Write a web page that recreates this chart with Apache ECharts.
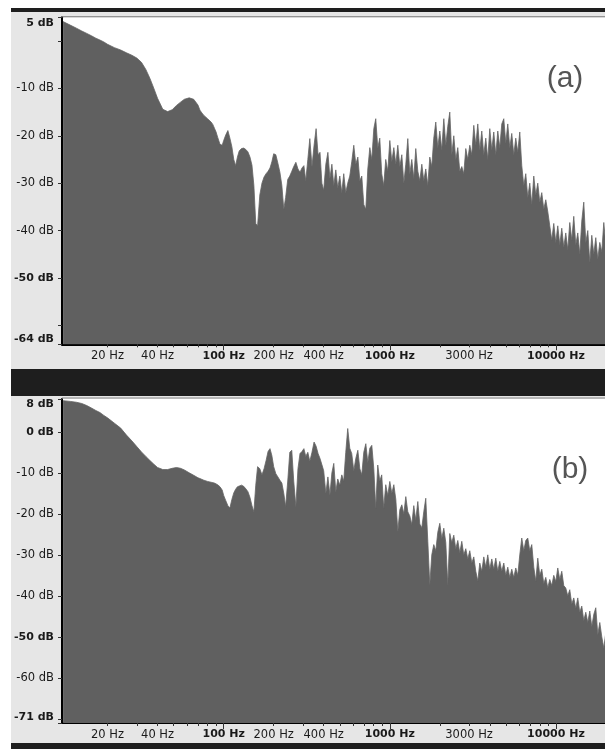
<!DOCTYPE html>
<html><head><meta charset="utf-8">
<script src="https://cdn.jsdelivr.net/npm/echarts@6/dist/echarts.min.js"></script>
<style>html,body{margin:0;padding:0;background:#fff;}#chart{width:605px;height:749px;}</style>
</head><body><div id="chart"></div>
<script>
// Frequency grid (Hz)
const freqs = [
  10.8, 12, 13, 14, 15, 16, 17, 18, 19, 20,
  22, 24, 26, 28, 30, 32, 34, 36, 38, 40,
  43, 46, 49, 52, 55, 58, 62, 66, 70,
  72, 74, 76, 78, 80, 82, 84, 86, 88, 90, 92, 95, 98,
  100, 103, 106, 109, 112, 115, 118, 121, 124, 128,
  132, 136, 140, 144, 148, 152, 156, 160, 165, 170,
  175, 180, 185, 190, 195, 200, 206, 212, 218, 224,
  230, 236, 243, 250, 257, 264, 272, 280, 288, 296,
  304, 312, 321, 330, 340, 350, 360, 370, 380, 390,
  400, 412, 424, 436, 448, 460, 473, 486, 500, 514,
  528, 543, 558, 574, 590, 607, 624, 642, 660, 678,
  697, 717, 737, 758, 779, 801, 823, 846, 870, 894,
  919, 945, 972, 1000, 1028, 1057, 1087, 1117, 1149, 1181,
  1214, 1248, 1283, 1319, 1356, 1394, 1433, 1474, 1515, 1558,
  1601, 1646, 1693, 1740, 1789, 1839, 1891, 1944, 1999, 2055,
  2113, 2172, 2233, 2296, 2360, 2427, 2495, 2565, 2637, 2711,
  2787, 2866, 2946, 3029, 3114, 3202, 3292, 3384, 3479, 3577,
  3678, 3781, 3887, 3996, 4109, 4224, 4343, 4465, 4590, 4719,
  4852, 4988, 5128, 5272, 5420, 5573, 5729, 5890, 6056, 6226,
  6401, 6581, 6766, 6956, 7152, 7353, 7559, 7772, 7990, 8215,
  8446, 8683, 8927, 9178, 9436, 9701, 9974, 10254, 10542, 10839,
  11143, 11457, 11779, 12110, 12450, 12800, 13160, 13530, 13910, 14301,
  14703, 15117, 15542, 15979, 16428, 16890, 17364, 17852, 18354, 18870,
  19400, 19950
];
// Panel (a) levels (dB)
const levelsA = [
  4.1, 3.3, 2.7, 2.1, 1.6, 1.1, 0.6, 0.2, -0.2, -0.7,
  -1.4, -1.9, -2.5, -3.0, -3.6, -4.5, -6.0, -7.9, -10.0, -12.1,
  -14.4, -14.9, -14.5, -13.6, -12.9, -12.3, -12.0, -12.3, -13.5,
  -14.6, -15.2, -15.7, -16.0, -16.4, -16.7, -17.1, -17.6, -18.4, -19.2, -20.3, -21.8, -22.0,
  -21.0, -19.8, -18.9, -20.5, -22.3, -25.0, -26.3, -24.5, -23.2, -22.7,
  -22.6, -22.9, -23.4, -24.5, -26.2, -30.5, -38.5, -39.0, -32.5, -30.0,
  -28.7, -28.0, -27.5, -26.8, -25.5, -23.8, -24.0, -25.8, -27.7, -30.5,
  -35.5, -33.0, -29.2, -28.5, -27.5, -26.5, -25.6, -27.0, -27.7, -26.8,
  -26.3, -29.5, -25.0, -20.6, -26.5, -22.0, -18.5, -24.0, -23.5, -30.0,
  -31.5, -26.0, -23.5, -29.0, -26.0, -30.5, -27.2, -31.0, -28.5, -32.0,
  -28.0, -32.0, -30.0, -28.5, -25.5, -22.0, -26.0, -24.5, -29.5, -28.5,
  -34.5, -35.5, -27.0, -22.5, -25.0, -18.5, -16.4, -22.5, -20.5, -28.0,
  -30.5, -25.0, -27.5, -21.0, -25.5, -22.5, -26.0, -22.0, -26.5, -24.0,
  -30.0, -26.0, -20.6, -28.0, -25.0, -29.0, -22.7, -27.5, -29.5, -26.0,
  -29.5, -27.0, -30.5, -24.5, -26.5, -20.5, -17.1, -22.5, -19.0, -23.0,
  -16.4, -22.0, -18.0, -15.0, -24.0, -20.0, -25.0, -22.5, -27.5, -26.5,
  -28.0, -22.7, -25.0, -22.0, -24.0, -17.8, -22.0, -17.5, -23.0, -19.0,
  -24.0, -20.5, -25.0, -18.5, -23.0, -19.2, -24.0, -19.0, -22.5, -17.5,
  -16.4, -21.5, -17.5, -22.5, -19.5, -24.0, -20.5, -23.5, -19.2, -26.3,
  -30.5, -28.0, -33.0, -30.0, -34.5, -28.5, -32.5, -30.0, -34.0, -32.0,
  -35.5, -33.5, -36.0, -39.0, -42.0, -38.5, -42.5, -39.0, -43.0, -39.5,
  -43.5, -40.5, -44.0, -38.3, -42.0, -37.0, -43.0, -40.5, -45.0, -38.0,
  -34.0, -42.5, -40.0, -46.7, -41.0, -45.0, -41.5, -46.0, -42.5, -44.5,
  -38.3, -43.0
];
// Panel (b) levels (dB)
const levelsB = [
  7.6, 7.4, 7.2, 6.9, 6.4, 5.8, 5.2, 4.7, 4.0, 3.4,
  2.1, 0.9, -0.8, -2.2, -3.6, -4.9, -6.0, -7.0, -7.9, -8.7,
  -9.2, -9.2, -8.9, -8.7, -8.9, -9.3, -10.0, -10.6, -11.2,
  -11.4, -11.6, -11.8, -12.0, -12.1, -12.2, -12.3, -12.4, -12.5, -12.6, -12.9, -13.4, -14.2,
  -15.5, -16.8, -18.0, -18.6, -16.5, -14.9, -14.0, -13.4, -13.0, -13.0,
  -13.3, -13.9, -14.6, -16.0, -18.0, -19.5, -13.0, -8.5, -9.0, -10.5,
  -9.0, -7.0, -4.8, -4.1, -5.8, -8.5, -10.2, -11.0, -11.8, -12.5,
  -15.0, -18.2, -12.0, -5.0, -4.5, -12.0, -18.2, -9.0, -5.3, -4.8,
  -4.1, -6.0, -5.0, -7.2, -5.0, -2.5, -3.5, -5.3, -6.5, -8.0,
  -9.5, -15.0, -11.0, -15.4, -10.0, -7.7, -14.6, -11.5, -13.0, -10.5,
  -12.0, -5.0, 0.8, -4.0, -5.3, -9.5, -6.5, -4.5, -9.0, -10.5,
  -5.0, -2.9, -7.5, -4.0, -3.3, -9.0, -18.6, -8.1, -12.0, -10.5,
  -18.6, -12.9, -15.5, -12.1, -15.0, -12.9, -16.5, -24.3, -19.0, -17.8,
  -20.0, -15.8, -19.5, -20.5, -22.6, -18.0, -21.5, -17.0, -22.5, -23.4,
  -19.5, -16.2, -26.7, -37.3, -30.0, -27.5, -29.0, -24.5, -22.3, -26.0,
  -23.5, -27.0, -37.3, -24.8, -27.0, -25.2, -28.5, -26.5, -29.5, -26.7,
  -30.0, -28.5, -31.0, -29.0, -32.0, -30.5, -34.0, -36.4, -32.0, -34.0,
  -30.5, -33.0, -30.0, -33.5, -31.0, -33.5, -30.8, -34.0, -31.6, -34.0,
  -32.0, -35.0, -33.0, -35.5, -33.5, -35.5, -33.2, -35.0, -30.0, -25.9,
  -29.0, -26.5, -25.9, -29.0, -27.5, -33.0, -36.4, -30.8, -35.0, -33.5,
  -37.0, -35.5, -38.0, -36.0, -37.5, -35.0, -36.5, -33.2, -36.0, -34.0,
  -37.5, -38.1, -40.0, -38.5, -42.0, -40.5, -43.0, -40.5, -44.0, -42.5,
  -46.0, -44.0, -46.5, -43.7, -47.5, -44.5, -42.9, -49.4, -46.5, -50.0,
  -52.7, -49.0
];
// Axis ticks and labels
const freqTicks = [20,30,40,50,60,70,80,90,100,200,300,400,500,600,700,800,900,1000,2000,3000,4000,5000,6000,7000,8000,9000,10000];
const freqMajorTicks = [100, 1000, 10000];
const freqLabels = [20, 40, 100, 200, 400, 1000, 3000, 10000];
const boldFreqs = [100, 1000, 10000];
const freqRange = [10.64, 19730];
const dbTicksA = [5, 0, -10, -20, -30, -40, -50, -60, -64];
const dbLabelsA = [5, -10, -20, -30, -40, -50, -64];
const boldDbA = [5, -50, -64];
const dbRangeA = [-64, 5];
const dbTicksB = [8, 0, -10, -20, -30, -40, -50, -60, -70, -71];
const dbLabelsB = [8, 0, -10, -20, -30, -40, -50, -60, -71];
const boldDbB = [8, 0, -50, -71];
const dbRangeB = [-71, 8];
const panelTags = ['(a)', '(b)'];

const FONT = '"DejaVu Sans", Verdana, sans-serif';
const DARK = '#1e1e1e', PANEL = '#e6e6e6', FILL = '#606060';
const rich = {
  b: {fontFamily: FONT, fontSize: 11, fontWeight: 'bold', color: '#1a1a1a'},
  n: {fontFamily: FONT, fontSize: 11.5, color: '#1a1a1a'}
};
const lg = Math.log10;

function xAxes(gi) {
  return [{
    type: 'value', gridIndex: gi, min: lg(freqRange[0]), max: lg(freqRange[1]), position: 'bottom',
    axisLine: {show: true, onZero: false, lineStyle: {color: '#000', width: 2}},
    axisTick: {show: true, customValues: freqTicks.map(lg), length: 3, lineStyle: {color: '#333', width: 1}},
    axisLabel: {show: true, customValues: freqLabels.map(lg), margin: 6,
      formatter: v => { const f = Math.round(Math.pow(10, v)); return (boldFreqs.includes(f) ? '{b|' : '{n|') + f + ' Hz}'; },
      rich: rich},
    splitLine: {show: false}
  }, {
    type: 'value', gridIndex: gi, min: lg(freqRange[0]), max: lg(freqRange[1]), position: 'bottom', offset: 0,
    axisLine: {show: false, onZero: false},
    axisTick: {show: true, customValues: freqMajorTicks.map(lg), length: 6, lineStyle: {color: '#333', width: 1}},
    axisLabel: {show: false}, splitLine: {show: false}
  }];
}
function yAxis(gi, range, ticks, labels, bold) {
  return {
    type: 'value', gridIndex: gi, min: range[0], max: range[1],
    axisLine: {show: true, onZero: false, lineStyle: {color: '#000', width: 2}},
    axisTick: {show: true, customValues: ticks, length: 4, lineStyle: {color: '#333', width: 1}},
    axisLabel: {show: true, customValues: labels, margin: 8,
      verticalAlignMaxLabel: 'bottom', verticalAlignMinLabel: 'top',
      formatter: v => (bold.includes(v) ? '{b|' : '{n|') + v + ' dB}', rich: rich},
    splitLine: {show: false}
  };
}
function spectrum(gi, levels) {
  return {
    type: 'line', xAxisIndex: gi * 2, yAxisIndex: gi,
    data: freqs.map((f, i) => [lg(f), levels[i]]),
    symbol: 'none', clip: true, silent: true, smooth: false,
    lineStyle: {color: '#646464', width: 0.8},
    areaStyle: {color: FILL, opacity: 1, origin: 'start'}
  };
}

const chart = echarts.init(document.getElementById('chart'), null, {renderer: 'canvas'});
chart.setOption({
  animation: false,
  backgroundColor: '#fff',
  grid: [
    {left: 62, right: 0, top: 17.3, height: 327, show: true, backgroundColor: '#fff', borderWidth: 0},
    {left: 62, right: 0, top: 399, height: 324, show: true, backgroundColor: '#fff', borderWidth: 0}
  ],
  xAxis: xAxes(0).concat(xAxes(1)),
  yAxis: [
    yAxis(0, dbRangeA, dbTicksA, dbLabelsA, boldDbA),
    yAxis(1, dbRangeB, dbTicksB, dbLabelsB, boldDbB)
  ],
  series: [spectrum(0, levelsA), spectrum(1, levelsB)],
  graphic: {elements: [
    {type: 'rect', z: -10, silent: true, shape: {x: 11, y: 8, width: 594, height: 4}, style: {fill: DARK}},
    {type: 'rect', z: -10, silent: true, shape: {x: 11, y: 12, width: 594, height: 357}, style: {fill: PANEL}},
    {type: 'rect', z: -10, silent: true, shape: {x: 11, y: 369, width: 594, height: 27}, style: {fill: DARK}},
    {type: 'rect', z: -10, silent: true, shape: {x: 11, y: 396, width: 594, height: 347}, style: {fill: PANEL}},
    {type: 'rect', z: -10, silent: true, shape: {x: 11, y: 743, width: 594, height: 6}, style: {fill: DARK}},
    {type: 'rect', z: 50, silent: true, shape: {x: 62, y: 16.3, width: 543, height: 1}, style: {fill: '#777'}},
    {type: 'rect', z: 50, silent: true, shape: {x: 62, y: 397.6, width: 543, height: 1}, style: {fill: '#888'}},
    {type: 'text', z: 50, silent: true, style: {text: panelTags[0], x: 565, y: 79, align: 'center', verticalAlign: 'middle', fontSize: 30, fontFamily: '"Liberation Sans", Arial, sans-serif', fill: '#555'}},
    {type: 'text', z: 50, silent: true, style: {text: panelTags[1], x: 570, y: 470, align: 'center', verticalAlign: 'middle', fontSize: 30, fontFamily: '"Liberation Sans", Arial, sans-serif', fill: '#555'}}
  ]}
});
</script>
</body></html>
